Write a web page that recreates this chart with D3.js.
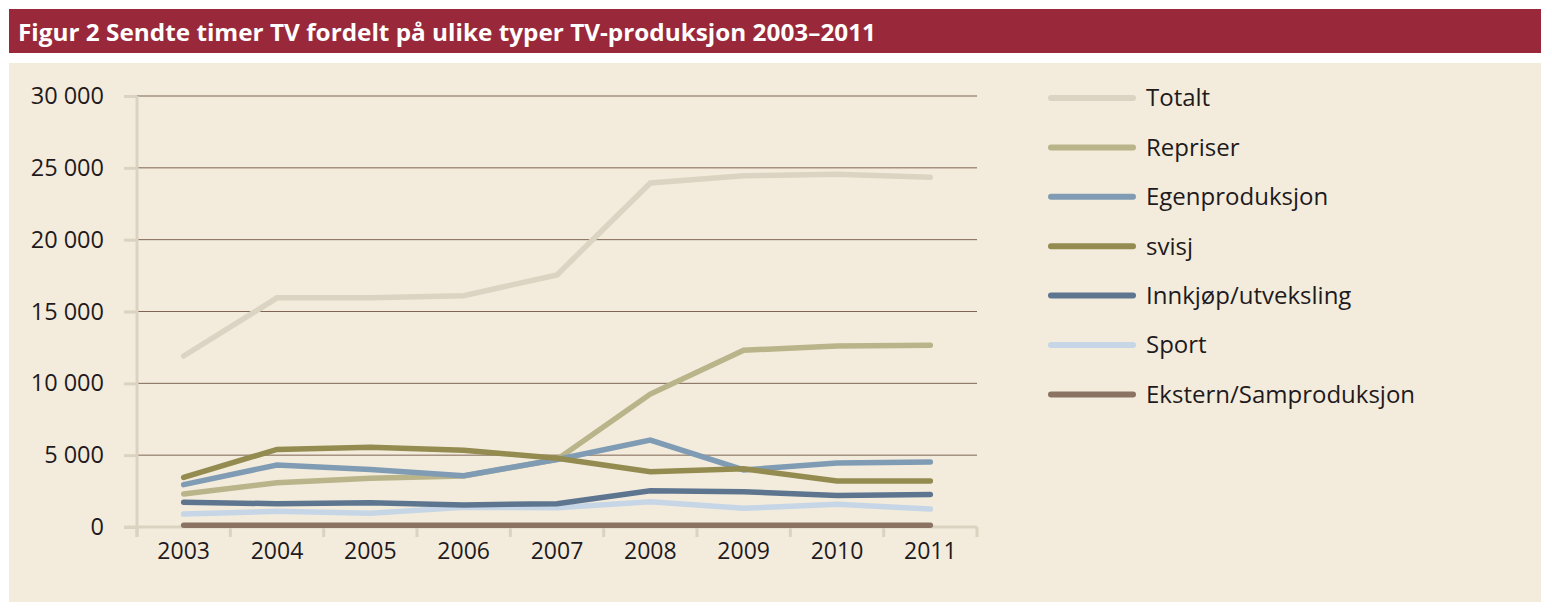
<!DOCTYPE html>
<html><head><meta charset="utf-8">
<script src="https://cdn.jsdelivr.net/npm/d3@7"></script>
<style>
html,body{margin:0;padding:0;background:#fff;}
svg{display:block;font-family:"Open Sans","Noto Sans",sans-serif;}
</style></head>
<body>
<svg id="chart" width="1552" height="608"></svg>
<script>
const title = "Figur 2 Sendte timer TV fordelt på ulike typer TV-produksjon 2003–2011";
const years = ["2003","2004","2005","2006","2007","2008","2009","2010","2011"];
const yTicks = [0, 5000, 10000, 15000, 20000, 25000, 30000];
const seriesNames = ["Totalt","Repriser","Egenproduksjon","svisj","Innkjøp/utveksling","Sport","Ekstern/Samproduksjon"];
const seriesColors = ["#dcd4c2","#b9b48a","#809cb4","#938b50","#5e7590","#c6d6e6","#8a7362"];
const totalt    = [11900, 15950, 15950, 16100, 17550, 23950, 24450, 24550, 24350];
const repriser  = [2300, 3080, 3400, 3550, 4700, 9250, 12300, 12600, 12650];
const egen      = [2950, 4320, 4000, 3570, 4700, 6050, 3970, 4450, 4530];
const svisj     = [3450, 5400, 5550, 5350, 4780, 3850, 4050, 3200, 3200];
const innkjop   = [1720, 1620, 1680, 1540, 1620, 2530, 2460, 2200, 2260];
const sport     = [900, 1090, 950, 1370, 1340, 1760, 1300, 1580, 1250];
const ekstern   = [120, 120, 120, 120, 120, 120, 120, 120, 120];
const seriesValues = [totalt, repriser, egen, svisj, innkjop, sport, ekstern];
const drawOrder = [0, 5, 1, 2, 3, 4, 6];

const svg = d3.select("#chart");
// title bar
svg.append("rect").attr("x",9).attr("y",9).attr("width",1532).attr("height",44).attr("fill","#99293a");
svg.append("text").attr("x",18).attr("y",41).attr("fill","#fff")
  .attr("font-size",24).attr("font-weight","bold")
  .attr("textLength",858).attr("lengthAdjust","spacingAndGlyphs").text(title);
// panel
svg.append("rect").attr("x",9).attr("y",63).attr("width",1532).attr("height",539).attr("fill","#f3ecdc");

const x = d3.scaleBand().domain(years).range([137, 977]);
const y = d3.scaleLinear().domain([0, 30000]).range([527, 96]);
const axisCol = "#dbd3c1";
const textCol = "#1f1a1c";

// gridlines
svg.append("g").selectAll("line").data(yTicks.filter(d => d > 0)).join("line")
  .attr("x1",137).attr("x2",977).attr("y1",d=>y(d)).attr("y2",d=>y(d))
  .attr("stroke","#7e6453").attr("stroke-width",1);

// y axis
const fmt = d => d3.format(",")(d).replace(/,/g, " ");
const yAxis = svg.append("g").attr("transform","translate(137,0)")
  .call(d3.axisLeft(y).tickValues(yTicks).tickSize(13).tickPadding(20).tickFormat(fmt));
yAxis.select(".domain").attr("stroke",axisCol).attr("stroke-width",3).attr("d","M0,96V537");
yAxis.selectAll(".tick line").attr("stroke",axisCol).attr("stroke-width",3);
yAxis.selectAll(".tick text").attr("fill",textCol).attr("font-size",23.5).attr("font-family","'Open Sans',sans-serif");

// x axis
const xAxis = svg.append("g").attr("transform","translate(0,527)")
  .call(d3.axisBottom(x).tickSize(0).tickPadding(16));
xAxis.select(".domain").attr("stroke",axisCol).attr("stroke-width",3).attr("d","M124,0H977");
xAxis.selectAll(".tick text").attr("fill",textCol).attr("font-size",23).attr("font-family","'Open Sans',sans-serif");
const bounds = years.map(d => x(d)).concat([x.range()[1]]);
svg.append("g").selectAll("line").data(bounds).join("line")
  .attr("x1",d=>d).attr("x2",d=>d).attr("y1",527).attr("y2",537)
  .attr("stroke",axisCol).attr("stroke-width",3);

// lines
const line = d3.line().x((d,i)=>x(years[i]) + x.bandwidth()/2).y(d=>y(d));
drawOrder.forEach(k => {
  svg.append("path").datum(seriesValues[k]).attr("d",line)
    .attr("fill","none").attr("stroke",seriesColors[k]).attr("stroke-width",5.5)
    .attr("stroke-linecap","round").attr("stroke-linejoin","miter");
});

// legend
const lg = svg.append("g").selectAll("g").data(seriesNames).join("g")
  .attr("transform",(d,i)=>`translate(0,${98 + i*49.4})`);
lg.append("line").attr("x1",1051).attr("x2",1133).attr("y1",0).attr("y2",0)
  .attr("stroke",(d,i)=>seriesColors[i]).attr("stroke-width",6).attr("stroke-linecap","round");
lg.append("text").attr("x",1146).attr("y",0).attr("dy","0.35em")
  .attr("font-size",24).attr("fill",textCol).text(d=>d);
</script>
</body></html>
